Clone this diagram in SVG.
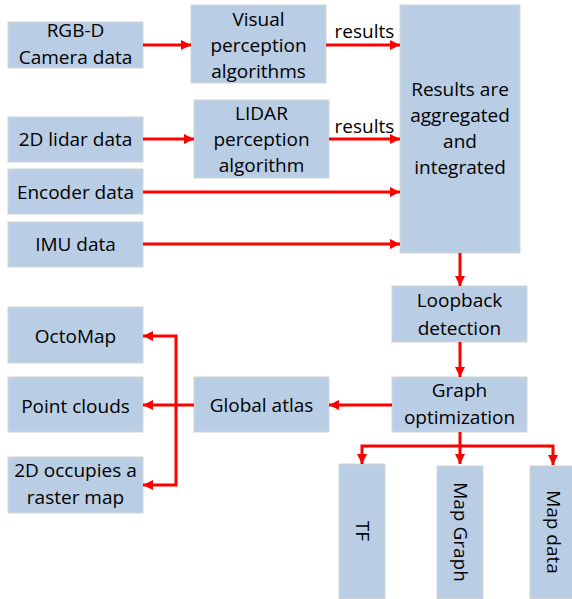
<svg xmlns="http://www.w3.org/2000/svg" width="572" height="599" viewBox="0 0 572 599">
<style>
.box{fill:#B9CDE5;stroke:#D6D6D6;stroke-width:1}
text{font-family:"Open Sans","Liberation Sans",sans-serif;font-size:19px;fill:#000;text-anchor:middle}
.c{fill:none;stroke:#FF0000;stroke-width:3}
</style>
<defs>
<marker id="ah" markerUnits="userSpaceOnUse" markerWidth="11" markerHeight="11" refX="10" refY="5" orient="auto">
<path d="M0,0 L10,5 L0,10 z" fill="#FF0000"/>
</marker>
</defs>
<rect width="572" height="599" fill="#FFFFFF"/>
<g id="rgbd"><rect class="box" x="8" y="22" width="135" height="46"/><text x="75.5" y="37">RGB-D</text><text x="75.5" y="64">Camera data</text></g>
<g id="visual"><rect class="box" x="191" y="5" width="135" height="78"/><text x="258.5" y="26">Visual</text><text x="258.5" y="52">perception</text><text x="258.5" y="78">algorithms</text></g>
<g id="lidar2d"><rect class="box" x="8" y="117" width="135" height="45"/><text x="75.5" y="146">2D lidar data</text></g>
<g id="lidaralg"><rect class="box" x="194" y="100" width="135" height="78"/><text x="261.5" y="120">LIDAR</text><text x="261.5" y="146">perception</text><text x="261.5" y="172">algorithm</text></g>
<g id="encoder"><rect class="box" x="8" y="169" width="135" height="45"/><text x="75.5" y="199">Encoder data</text></g>
<g id="imu"><rect class="box" x="8" y="222" width="135" height="45"/><text x="75.5" y="251">IMU data</text></g>
<g id="results"><rect class="box" x="400" y="5" width="120" height="248"/><text x="460" y="96">Results are</text><text x="460" y="122">aggregated</text><text x="460" y="148">and</text><text x="460" y="174">integrated</text></g>
<g id="loopback"><rect class="box" x="392" y="286" width="135" height="56"/><text x="459.5" y="307">Loopback</text><text x="459.5" y="335">detection</text></g>
<g id="graphopt"><rect class="box" x="392" y="377" width="135" height="55"/><text x="459.5" y="397">Graph</text><text x="459.5" y="424">optimization</text></g>
<g id="atlas"><rect class="box" x="194" y="377" width="135" height="55"/><text x="261.5" y="412">Global atlas</text></g>
<g id="octomap"><rect class="box" x="8" y="307" width="135" height="56"/><text x="75.5" y="343">OctoMap</text></g>
<g id="pointclouds"><rect class="box" x="8" y="377" width="135" height="55"/><text x="75.5" y="413">Point clouds</text></g>
<g id="raster"><rect class="box" x="8" y="457" width="135" height="56"/><text x="75.5" y="477">2D occupies a</text><text x="75.5" y="504">raster map</text></g>
<g id="tf"><rect class="box" x="339" y="464" width="46" height="135"/><text transform="translate(355.5,531) rotate(90)">TF</text></g>
<g id="mapgraph"><rect class="box" x="437" y="466" width="46" height="133"/><text transform="translate(453.5,532) rotate(90)">Map Graph</text></g>
<g id="mapdata"><rect class="box" x="530" y="466" width="46" height="133"/><text transform="translate(546.5,532) rotate(90)">Map data</text></g>
<g id="connectors">
<line class="c" x1="143" y1="45" x2="191" y2="45" marker-end="url(#ah)"/>
<line class="c" x1="143" y1="139" x2="194" y2="139" marker-end="url(#ah)"/>
<line class="c" x1="326" y1="45" x2="400" y2="45" marker-end="url(#ah)"/>
<line class="c" x1="329" y1="139" x2="400" y2="139" marker-end="url(#ah)"/>
<line class="c" x1="143" y1="192" x2="400" y2="192" marker-end="url(#ah)"/>
<line class="c" x1="143" y1="244" x2="400" y2="244" marker-end="url(#ah)"/>
<line class="c" x1="460" y1="253" x2="460" y2="286" marker-end="url(#ah)"/>
<line class="c" x1="460" y1="342" x2="460" y2="377" marker-end="url(#ah)"/>
<line class="c" x1="392" y1="405" x2="329" y2="405" marker-end="url(#ah)"/>
<line class="c" x1="194" y1="405" x2="143" y2="405" marker-end="url(#ah)"/>
<polyline class="c" points="176,405 176,336 143,336" marker-end="url(#ah)"/>
<polyline class="c" points="176,405 176,485 143,485" marker-end="url(#ah)"/>
<line class="c" x1="460" y1="432" x2="460" y2="464" marker-end="url(#ah)"/>
<polyline class="c" points="460,446 362,446 362,464" marker-end="url(#ah)"/>
<polyline class="c" points="460,446 553,446 553,465" marker-end="url(#ah)"/>
</g>
<text x="364.5" y="38">results</text>
<text x="364.5" y="133">results</text>
</svg>
